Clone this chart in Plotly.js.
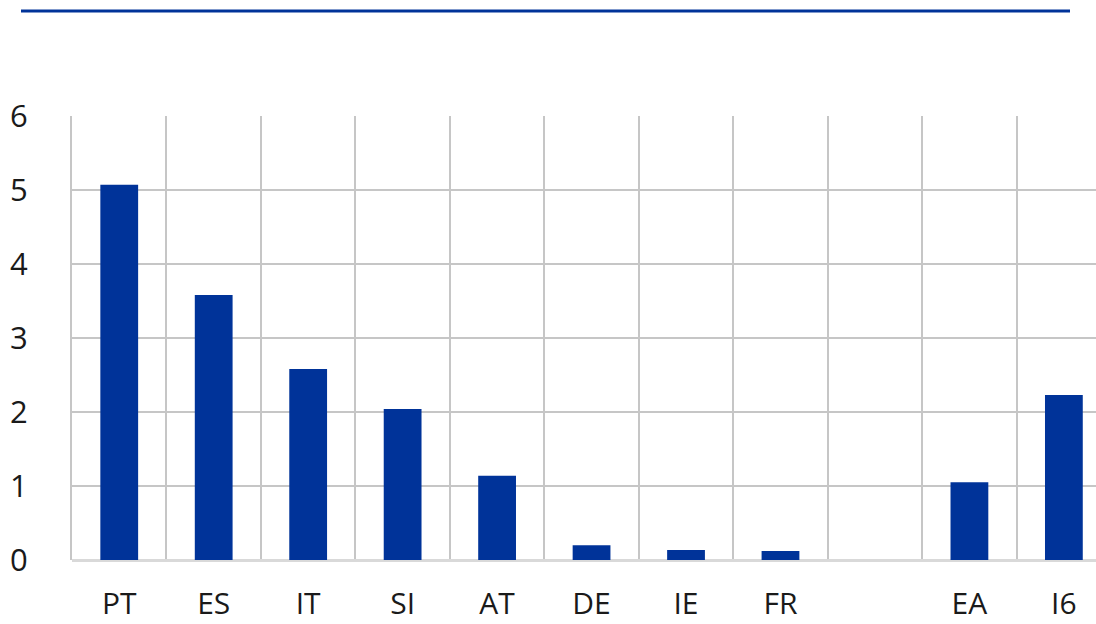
<!DOCTYPE html>
<html>
<head>
<meta charset="utf-8">
<script src="https://cdn.plot.ly/plotly-3.0.1.min.js"></script>
<style>
html,body{margin:0;padding:0;background:#fff;overflow:hidden;}
#chart{width:1096px;height:624px;}
</style>
</head>
<body>
<div id="chart"></div>
<script>
const categories = ["PT", "ES", "IT", "SI", "AT", "DE", "IE", "FR", " ", "EA", "I6"];
const values = [5.07, 3.58, 2.58, 2.04, 1.14, 0.20, 0.135, 0.12, null, 1.05, 2.23];
const yTicks = [0, 1, 2, 3, 4, 5, 6];

const barColor = "#003399";
const gridColor = "#c6c6c6";
const fontFam = "'Open Sans', 'Noto Sans', 'Liberation Sans', sans-serif";

const trace = {
  type: "bar",
  x: categories,
  y: values,
  width: 0.4,
  marker: {color: barColor, line: {width: 0}},
  hoverinfo: "x+y"
};

const layout = {
  width: 1096,
  height: 624,
  margin: {l: 72, r: 0, t: 116, b: 64, pad: 0},
  paper_bgcolor: "#ffffff",
  plot_bgcolor: "#ffffff",
  showlegend: false,
  font: {family: fontFam, size: 30, color: "#1a1a1a"},
  xaxis: {
    type: "category",
    range: [-0.5, 10.34],
    tickson: "boundaries",
    showgrid: true,
    gridcolor: gridColor,
    gridwidth: 2,
    showline: false,
    zeroline: false,
    ticks: "",
    ticklabelstandoff: 23,
    tickfont: {family: fontFam, size: 30, color: "#1a1a1a"},
    fixedrange: true
  },
  yaxis: {
    range: [0, 6],
    tickvals: yTicks,
    ticktext: yTicks.map(String),
    showgrid: true,
    gridcolor: gridColor,
    gridwidth: 2,
    zeroline: true,
    zerolinecolor: "#d9d9d9",
    zerolinewidth: 3,
    showline: true,
    linecolor: gridColor,
    linewidth: 2,
    ticks: "",
    ticklabelstandoff: 36,
    tickfont: {family: fontFam, size: 31, color: "#1a1a1a"},
    fixedrange: true
  },
  shapes: [{
    type: "line",
    xref: "paper", yref: "paper",
    x0: (21 - 72) / 1024, x1: (1070 - 72) / 1024,
    y0: (560 - 11) / 444, y1: (560 - 11) / 444,
    line: {color: barColor, width: 3}
  }]
};

Plotly.newPlot("chart", [trace], layout, {staticPlot: true, displayModeBar: false});
</script>
</body>
</html>
